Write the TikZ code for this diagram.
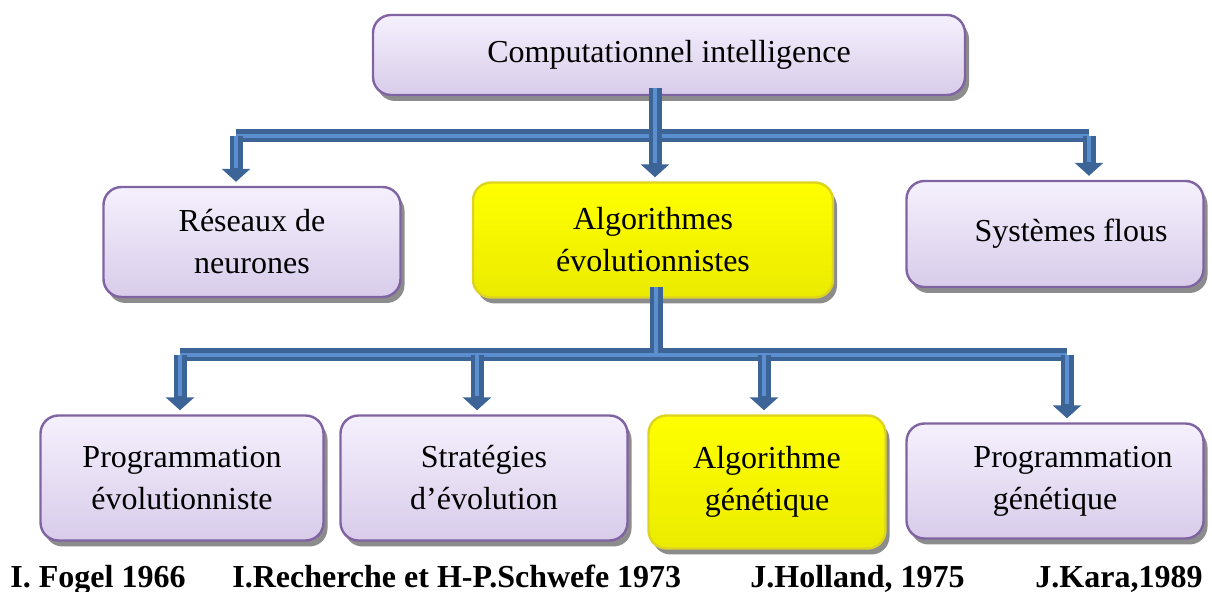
\documentclass[tikz,border=0pt]{standalone}
\usepackage{fontspec}
\setmainfont{Liberation Serif}
\usepackage{xcolor}
\usepackage{tikz}
\usetikzlibrary{arrows.meta}
\usetikzlibrary{shadows}
\definecolor{BarreBleue}{HTML}{3C6497}
\definecolor{BarreClaire}{HTML}{5B8FD0}
\definecolor{BordViolet}{HTML}{8064A2}
\definecolor{LavandeHaut}{HTML}{F5F0FD}
\definecolor{LavandeBas}{HTML}{D8CCEA}

\tikzset{
  boite/.style={draw=BordViolet, line width=1.2pt, rounded corners=9pt,
    top color=LavandeHaut, bottom color=LavandeBas, align=center,
    font=\fontsize{16}{21}\selectfont,
    drop shadow={shadow xshift=2pt, shadow yshift=-3pt, fill=black, opacity=.45}},
  jaune/.style={boite, draw=yellow!85!black, top color=yellow, bottom color=yellow!92!black},
  barre/.style={draw=BarreBleue, line width=6.5pt, -{Triangle[width=14pt,length=6.5pt]}, shorten >=2pt},
  barreclaire/.style={draw=BarreClaire, line width=2pt, shorten >=9pt},
  tige/.style={draw=BarreBleue, line width=6.5pt},
  tigeclaire/.style={draw=BarreClaire, line width=2pt},
  auteur/.style={font=\fontsize{16}{19}\selectfont\bfseries, anchor=base west, inner sep=0pt}
}

\begin{document}
\begin{tikzpicture}[x=0.5pt, y=-0.5pt]
\useasboundingbox (0,0) rectangle (1212,592);

  % boites
\node[boite, minimum width=296pt, minimum height=40pt] (ci) at (669,55) {Computationnel intelligence};
\node[boite, minimum width=148.5pt, minimum height=55pt] (rn) at (252,242) {Réseaux de\\neurones};
\node[jaune, minimum width=180pt, minimum height=57.5pt] (ae) at (653,240) {Algorithmes\\évolutionnistes};
\node[boite, minimum width=148.5pt, minimum height=53pt] (sf) at (1055,234) {\hspace*{16pt}Systèmes flous};
\node[boite, minimum width=141.5pt, minimum height=62.5pt] (pe) at (182,478) {Programmation\\évolutionniste};
\node[boite, minimum width=143.5pt, minimum height=62.5pt] (se) at (484,478) {Stratégies\\d’évolution};
\node[jaune, minimum width=118.5pt, minimum height=66.5pt] (ag) at (767,482) {Algorithme\\génétique};
\node[boite, minimum width=148.5pt, minimum height=57.5pt] (pg) at (1055,481) {\hspace*{18pt}Programmation\\génétique};

  % barres
\coordinate (busA) at (655,136);
\coordinate (busB) at (656,355);
\foreach \couche in {tige, tigeclaire} {
  \draw[\couche] ([yshift=6pt]ae.south -| busB) -- (busB);
  \draw[\couche] ([xshift=-8pt]rn.north |- busA) -- ([xshift=17pt]sf.north |- busA);
  \draw[\couche] ([xshift=-1pt]pe.north |- busB) -- ([xshift=6pt]pg.north |- busB);
}
\foreach \couche in {barre, barreclaire} {
  \draw[\couche] ([yshift=4pt]ci.south -| busA) -- (ae.north -| busA);
  \draw[\couche] ([xshift=-8pt]rn.north |- busA) -- ([xshift=-8pt]rn.north);
  \draw[\couche] ([xshift=17pt]sf.north |- busA) -- ([xshift=17pt]sf.north);
  \draw[\couche] ([xshift=-1pt]pe.north |- busB) -- ([xshift=-1pt]pe.north);
  \draw[\couche] ([xshift=-3.5pt]se.north |- busB) -- ([xshift=-3.5pt]se.north);
  \draw[\couche] ([xshift=-1.5pt]ag.north |- busB) -- ([xshift=-1.5pt]ag.north);
  \draw[\couche] ([xshift=6pt]pg.north |- busB) -- ([xshift=6pt]pg.north);
}

  % auteurs
\node[auteur] (fo) at (10,588) {I. Fogel 1966};
\node[auteur] (re) at (232,588) {I.Recherche et H-P.Schwefe 1973};
\node[auteur] (ho) at (750,588) {J.Holland, 1975};
\node[auteur] (ka) at (1035,588) {J.Kara,1989};

\end{tikzpicture}
\end{document}
